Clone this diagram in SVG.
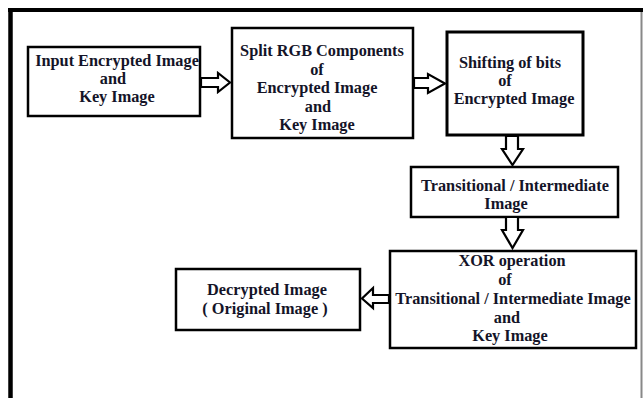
<svg xmlns="http://www.w3.org/2000/svg" width="643" height="398" viewBox="0 0 643 398">
<style>
.box{fill:#fff;stroke:#000;stroke-width:2.5}
.thick{stroke-width:3}
.arr{fill:#fff;stroke:#000;stroke-width:2.2;stroke-linejoin:miter}
text{font-family:"Liberation Serif","Times New Roman",serif;font-weight:bold;font-size:16.3px;fill:#141428;text-anchor:middle}
</style>
<rect x="0" y="0" width="643" height="398" fill="#fff"/>
<g id="frame">
<line x1="8" y1="10" x2="643" y2="10" stroke="#000" stroke-width="4"/>
<line x1="10.5" y1="8" x2="10.5" y2="398" stroke="#000" stroke-width="4.5"/>
<line x1="641.5" y1="12" x2="641.5" y2="398" stroke="#888" stroke-width="2"/>
</g>
<g id="n1">
<rect class="box" x="28" y="47" width="172" height="69"/>
<text x="117" y="65.5">Input Encrypted Image</text>
<text x="113" y="83.5">and</text>
<text x="117" y="101.5">Key Image</text>
</g>
<g id="n2">
<rect class="box" x="232" y="28" width="181" height="110"/>
<text x="322" y="55.5">Split RGB Components</text>
<text x="317" y="74.5">of</text>
<text x="317" y="92.5">Encrypted Image</text>
<text x="318" y="111.5">and</text>
<text x="317" y="129.5">Key Image</text>
</g>
<g id="n3">
<rect class="box thick" x="447" y="32" width="136" height="103"/>
<text x="510" y="67.5">Shifting of bits</text>
<text x="505" y="85.5">of</text>
<text x="514" y="103.5">Encrypted Image</text>
</g>
<g id="n4">
<rect class="box" x="411" y="167" width="207" height="50"/>
<text x="515" y="190.5">Transitional / Intermediate</text>
<text x="506" y="208.5">Image</text>
</g>
<g id="n5">
<rect class="box" x="390" y="251" width="246" height="97"/>
<text x="512" y="265.5">XOR operation</text>
<text x="505" y="284.5">of</text>
<text x="513" y="304">Transitional / Intermediate Image</text>
<text x="507" y="322.5">and</text>
<text x="510" y="341">Key Image</text>
</g>
<g id="n6">
<rect class="box" x="176" y="269" width="184" height="61"/>
<text x="267" y="294.5">Decrypted Image</text>
<text x="265" y="313.5">( Original Image )</text>
</g>
<g id="connectors">
<polygon class="arr" points="201,78 218,78 218,73 230,82.5 218,92 218,87 201,87"/>
<polygon class="arr" points="414,78 428,78 428,74 445,83.5 428,93 428,88 414,88"/>
<polygon class="arr" points="506,136 506,149 502,149 512.5,165 523,149 518,149 518,136"/>
<polygon class="arr" points="506,217 506,230 502,230 512.5,248 523,230 518,230 518,217"/>
<polygon class="arr" points="389,295 373,295 373,288 362,298.5 373,308 373,303 389,303"/>
</g>
</svg>
